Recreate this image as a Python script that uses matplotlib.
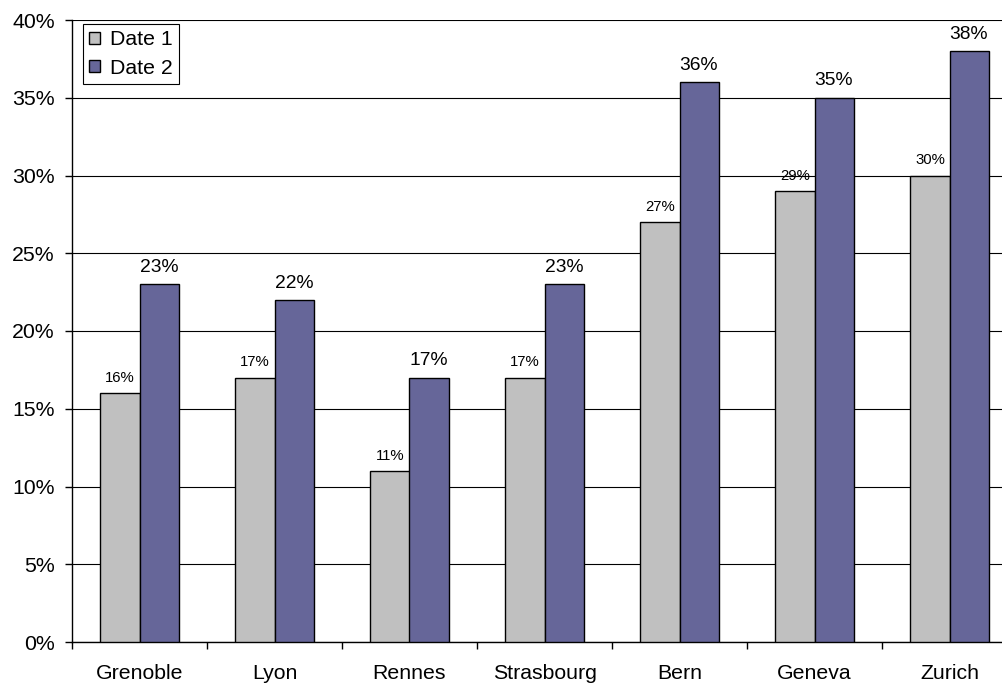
import matplotlib
matplotlib.use("Agg")
import matplotlib.pyplot as plt
import numpy as np

categories = ["Grenoble", "Lyon", "Rennes", "Strasbourg", "Bern", "Geneva", "Zurich"]
date1 = [16, 17, 11, 17, 27, 29, 30]
date2 = [23, 22, 17, 23, 36, 35, 38]
series_names = ["Date 1", "Date 2"]
yticks = [0, 5, 10, 15, 20, 25, 30, 35, 40]

plt.rcParams['font.family'] = ['Liberation Sans', 'DejaVu Sans']

fig = plt.figure(figsize=(10.03, 6.88), dpi=100)
ax = fig.add_axes([72/1003, 46/688, 945/1003, 622/688])

x = np.arange(len(categories))
w = 0.289
b1 = ax.bar(x - w/2, date1, w, color="#C0C0C0", edgecolor="black", linewidth=1, label=series_names[0], zorder=3)
b2 = ax.bar(x + w/2, date2, w, color="#666699", edgecolor="black", linewidth=1, label=series_names[1], zorder=3)

for xi, v in zip(x, date1):
    ax.annotate(f"{v}%", (xi - w/2, v), xytext=(0, 6), textcoords="offset points",
                ha="center", va="bottom", fontsize=10.7)
for xi, v in zip(x, date2):
    ax.annotate(f"{v}%", (xi + w/2, v), xytext=(0, 6), textcoords="offset points",
                ha="center", va="bottom", fontsize=13.9)

ax.set_xlim(-0.5, len(categories) - 0.5)
ax.set_ylim(0, 40)
ax.set_yticks(yticks)
ax.set_yticklabels([f"{t}%" for t in yticks], fontsize=15.3)
ax.yaxis.grid(True, color="black", linewidth=0.8, zorder=0)
ax.set_axisbelow(True)

ax.set_xticks(x)
ax.set_xticklabels(categories, fontsize=15.3)
ax.set_xticks(np.arange(len(categories) + 1) - 0.5, minor=True)
ax.tick_params(axis="x", which="major", length=0, pad=16)
ax.tick_params(axis="x", which="minor", length=5, direction="out", width=1)
ax.tick_params(axis="y", length=5, direction="out", width=1, pad=7.5)

for s in ["top", "right"]:
    ax.spines[s].set_visible(False)
ax.spines["left"].set_linewidth(1)
ax.spines["bottom"].set_linewidth(1)

leg = ax.legend(loc="upper left", bbox_to_anchor=(11/945, 1 - 4/622), fontsize=15.3,
                frameon=True, fancybox=False, edgecolor="black", framealpha=1,
                handlelength=0.5, handleheight=0.5, handletextpad=0.45,
                borderpad=0.3, labelspacing=0.45, borderaxespad=0)
leg.get_frame().set_linewidth(0.8)

fig.savefig("out.png", dpi=100)
